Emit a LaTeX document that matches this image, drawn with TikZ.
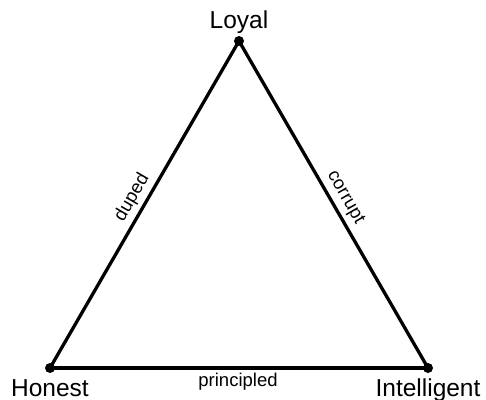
\documentclass[tikz,border=0pt]{standalone}
\usepackage{fontspec}
\setmainfont{Liberation Sans}
\begin{document}
\begin{tikzpicture}[x=1pt,y=-1pt,
  vdot/.style={circle,fill=black,inner sep=0pt,minimum size=10pt},
  edge/.style={line width=3.3pt,line join=round},
  vlab/.style={anchor=base,inner sep=0pt,font=\fontsize{24.5}{28}\selectfont},
  elab/.style={font=\fontsize{18.5}{22}\selectfont,inner sep=4pt}]
\useasboundingbox (0,0) rectangle (486,399);
\node[vdot] (L) at (239,41) {};
\node[vdot] (H) at (50,368) {};
\node[vdot] (I) at (428,368) {};
\draw[edge] (H.center) -- node[elab,midway,sloped,above] (d) {duped} (L.center);
\draw[edge] (L.center) -- node[elab,midway,sloped,above] (c) {corrupt} (I.center);
\draw[edge] (H.center) -- (I.center);
\node[vlab] (tL) at (239,28) {Loyal};
\node[vlab] (tH) at (50,396) {Honest};
\node[vlab] (tI) at (428,396) {Intelligent};
\node[anchor=base,inner sep=0pt,font=\fontsize{18.5}{22}\selectfont] (p) at (238,386) {principled};
\end{tikzpicture}
\end{document}
